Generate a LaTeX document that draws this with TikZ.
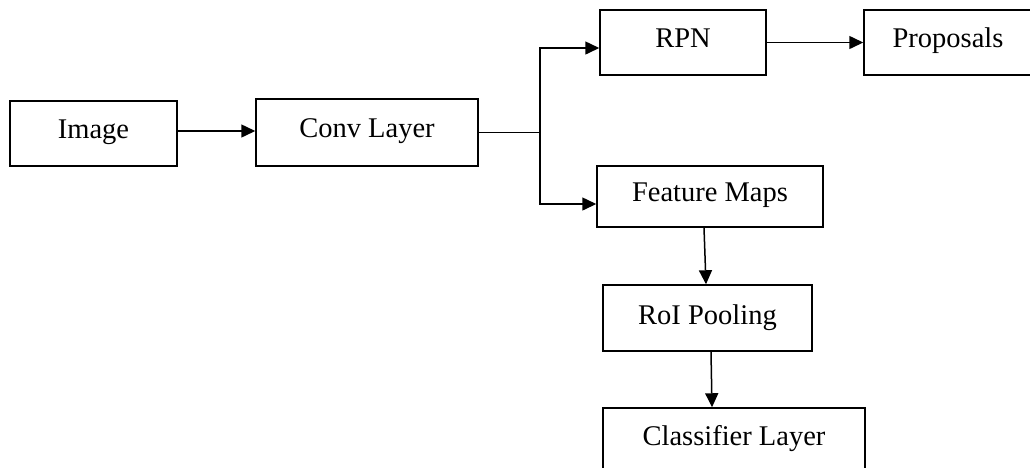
\documentclass[tikz,border=0pt]{standalone}
\usepackage{fontspec}
\setmainfont{Liberation Serif}
\usetikzlibrary{arrows.meta}
\begin{document}
\begin{tikzpicture}[x=1pt,y=-1pt,
  box/.style={draw=black,line width=1.5pt,inner sep=0pt,
    font=\fontsize{28.5}{34}\selectfont,text height=19pt,text depth=9pt},
  link/.style={line width=1.5pt},
  arr/.style={line width=1.5pt,-{Triangle[length=14pt,width=13pt]}}]
\useasboundingbox (0,0) rectangle (1030,467);
\clip (0,0) rectangle (1030,467);
\fill[white] (0,0) rectangle (1030,467);

% processing stages
\node[box,minimum width=167pt,minimum height=65pt] (img)  at (93.5,133.5) {Image};
\node[box,minimum width=222pt,minimum height=67pt] (conv) at (367,132.5) {Conv Layer};
\node[box,minimum width=166pt,minimum height=65pt] (rpn)  at (683,42.5) {RPN};
\node[box,minimum width=168pt,minimum height=65pt] (prop) at (948,42.5) {Proposals};
\node[box,minimum width=226pt,minimum height=61pt] (feat) at (710,196.5) {Feature Maps};
\node[box,minimum width=209pt,minimum height=66pt,text depth=6pt] (roi) at (707.5,318) {RoI Pooling};
\node[box,minimum width=262pt,minimum height=64pt] (cls)  at (734,440) {Classifier Layer};

% branch point after the convolution layer
\coordinate (split) at (540,132.5);

% connectors
\draw[arr] ([yshift=2.5pt]img.east) -- ([yshift=2.5pt]img.east -| conv.west);
\draw[link] (conv.east) -- (split);
\draw[arr] (split) |- ([yshift=-5.5pt]rpn.west);
\draw[arr] (split) |- ([yshift=-7.5pt]feat.west);
\draw[arr] (rpn.east) -- (prop.west);
\draw[arr] ([xshift=-6pt]feat.south) -- ([xshift=-1.5pt]roi.north);
\draw[arr] ([xshift=3.5pt]roi.south) -- ([xshift=-22pt]cls.north);
\end{tikzpicture}
\end{document}
